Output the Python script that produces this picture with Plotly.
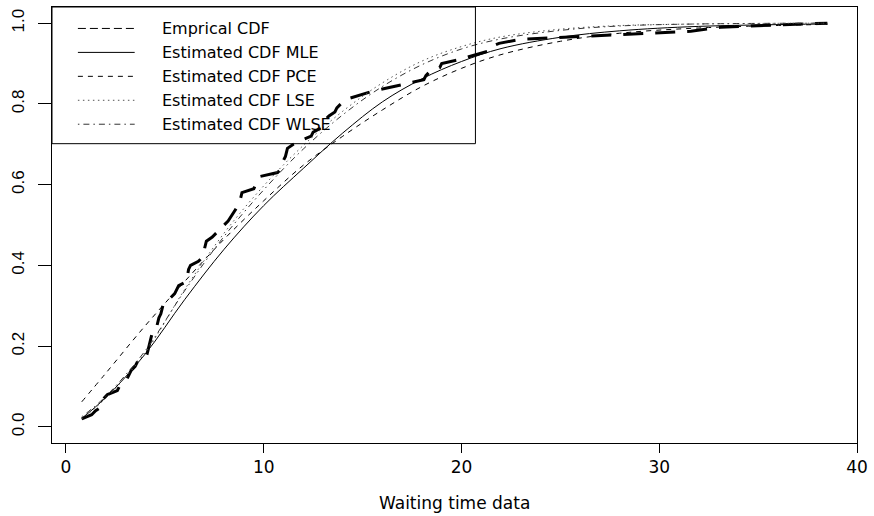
import plotly.graph_objects as go

# ---------------- data ----------------
waiting_x = [0.8, 1.3, 1.5, 1.8, 1.9, 2.1, 2.6, 2.7, 2.9, 3.1, 3.2, 3.3, 3.5, 3.6, 4.0,
             4.1, 4.2, 4.3, 4.4, 4.6, 4.7, 4.8, 4.9, 5.0, 5.3, 5.5, 5.7, 6.1, 6.2, 6.3,
             6.7, 6.9, 7.1, 7.4, 7.6, 7.7, 8.0, 8.2, 8.6, 8.8, 8.9, 9.5, 9.6, 9.7, 9.8,
             10.7, 10.9, 11.0, 11.1, 11.2, 11.5, 11.9, 12.4, 12.5, 12.9, 13.0, 13.1, 13.3,
             13.6, 13.7, 13.9, 14.1, 15.4, 17.3, 18.1, 18.2, 18.4, 18.9, 19.0, 19.9, 20.6,
             21.3, 21.4, 21.9, 23.0, 27.0, 31.6, 33.1, 38.5]
empirical_cdf = [0.02, 0.03, 0.04, 0.05, 0.07, 0.08, 0.09, 0.10, 0.11, 0.12, 0.13, 0.14, 0.15,
                 0.16, 0.17, 0.18, 0.20, 0.22, 0.24, 0.25, 0.27, 0.28, 0.30, 0.31, 0.32, 0.33,
                 0.35, 0.36, 0.39, 0.40, 0.41, 0.42, 0.46, 0.47, 0.48, 0.49, 0.50, 0.51, 0.54,
                 0.56, 0.58, 0.59, 0.60, 0.61, 0.62, 0.63, 0.64, 0.66, 0.67, 0.69, 0.70, 0.71,
                 0.72, 0.73, 0.74, 0.75, 0.76, 0.77, 0.78, 0.79, 0.80, 0.81, 0.83, 0.85, 0.86,
                 0.87, 0.88, 0.89, 0.90, 0.91, 0.92, 0.93, 0.94, 0.95, 0.96, 0.97, 0.98, 0.99,
                 1.00]

grid_x = [0.8, 2, 4, 6, 8, 10, 12, 14, 16, 18, 20, 22, 25, 28, 32, 38.5]
cdf_mle = [0.021, 0.072, 0.18, 0.315, 0.44, 0.548, 0.64, 0.728, 0.805, 0.862, 0.905, 0.937, 0.965, 0.981, 0.992, 0.998]
cdf_pce = [0.062, 0.132, 0.25, 0.36, 0.465, 0.56, 0.648, 0.72, 0.785, 0.843, 0.888, 0.922, 0.955, 0.975, 0.988, 0.997]
cdf_lse = [0.02, 0.07, 0.183, 0.34, 0.48, 0.597, 0.697, 0.782, 0.852, 0.906, 0.942, 0.966, 0.985, 0.994, 0.998, 1.0]
cdf_wlse = [0.025, 0.075, 0.188, 0.337, 0.472, 0.587, 0.688, 0.773, 0.843, 0.897, 0.936, 0.961, 0.982, 0.993, 0.998, 1.0]

x_ticks = [0, 10, 20, 30, 40]
y_ticks = [0.0, 0.2, 0.4, 0.6, 0.8, 1.0]
y_tick_labels = ["0.0", "0.2", "0.4", "0.6", "0.8", "1.0"]

legend_labels = ["Emprical CDF", "Estimated CDF MLE", "Estimated CDF PCE",
                 "Estimated CDF LSE", "Estimated CDF WLSE"]
x_title = "Waiting time data"

# ---------------- layout constants ----------------
W, H = 874, 516
ML, MR, MT, MB = 52, 14, 6, 73
PW, PH = W - ML - MR, H - MT - MB

def px_to_paper_x(px):
    return (px - ML) / PW

def px_to_paper_y(py):
    return (H - MB - py) / PH

FONT = "Liberation Sans, Arial, Helvetica, sans-serif"
FONT_WIDE = "DejaVu Sans, Liberation Sans, sans-serif"

styles = [
    dict(color="black", width=3, dash="20px,12px"),
    dict(color="black", width=1, dash="solid"),
    dict(color="black", width=1, dash="5px,5px"),
    dict(color="#555555", width=1, dash="1.5px,3.5px"),
    dict(color="#333333", width=1, dash="1.5px,4px,6px,4px"),
]
legend_styles = [
    dict(color="black", width=1, dash="8px,4px"),
    dict(color="black", width=1, dash="solid"),
    dict(color="black", width=1, dash="5px,5px"),
    dict(color="#555555", width=1, dash="1.5px,3.5px"),
    dict(color="#333333", width=1, dash="1.5px,4px,6px,4px"),
]

fig = go.Figure()
fig.add_trace(go.Scatter(x=waiting_x, y=empirical_cdf, mode="lines",
                         line=styles[0], name=legend_labels[0], showlegend=False))
for vals, st, nm in zip([cdf_mle, cdf_pce, cdf_lse, cdf_wlse], styles[1:], legend_labels[1:]):
    fig.add_trace(go.Scatter(x=grid_x, y=vals, mode="lines", line=dict(shape="spline", **st),
                             name=nm, showlegend=False))

# manual R-style legend
shapes = [dict(type="rect", xref="paper", yref="paper",
               x0=px_to_paper_x(52), x1=px_to_paper_x(477),
               y0=px_to_paper_y(143), y1=px_to_paper_y(6),
               line=dict(color="black", width=1), fillcolor="rgba(0,0,0,0)")]
annotations = []
row_y = [27.5, 51.5, 75.5, 99.5, 123.5]
for lab, st, ry in zip(legend_labels, legend_styles, row_y):
    shapes.append(dict(type="line", xref="paper", yref="paper",
                       x0=px_to_paper_x(78), x1=px_to_paper_x(135),
                       y0=px_to_paper_y(ry), y1=px_to_paper_y(ry), line=st))
    annotations.append(dict(text=lab, xref="paper", yref="paper",
                            x=px_to_paper_x(160), y=px_to_paper_y(ry),
                            xanchor="left", yanchor="middle", showarrow=False,
                            font=dict(family=FONT_WIDE, size=16, color="black")))

annotations.append(dict(text=x_title, xref="paper", yref="paper", x=0.5, y=0,
                        yshift=-60, xanchor="center", yanchor="middle", showarrow=False,
                        font=dict(family=FONT_WIDE, size=17, color="black")))

fig.update_layout(
    width=W, height=H,
    margin=dict(l=ML, r=MR, t=MT, b=MB),
    paper_bgcolor="white", plot_bgcolor="white",
    shapes=shapes, annotations=annotations,
    showlegend=False,
    xaxis=dict(range=[-0.705, 40.0], tickvals=x_ticks, ticks="outside", ticklen=9,
               tickwidth=1, tickcolor="black", showline=True, linecolor="black",
               linewidth=1, mirror=True, showgrid=False, zeroline=False,
               tickfont=dict(family=FONT_WIDE, size=17, color="black")),
    yaxis=dict(range=[-0.04, 1.04], tickvals=y_ticks, ticktext=y_tick_labels,
               tickangle=-90, ticks="outside", ticklen=13, tickwidth=1,
               tickcolor="black", showline=True, linecolor="black", linewidth=1,
               mirror=True, showgrid=False, zeroline=False, ticklabelstandoff=7,
               tickfont=dict(family=FONT, size=17, color="black")),
)

fig.write_html("out.html")
